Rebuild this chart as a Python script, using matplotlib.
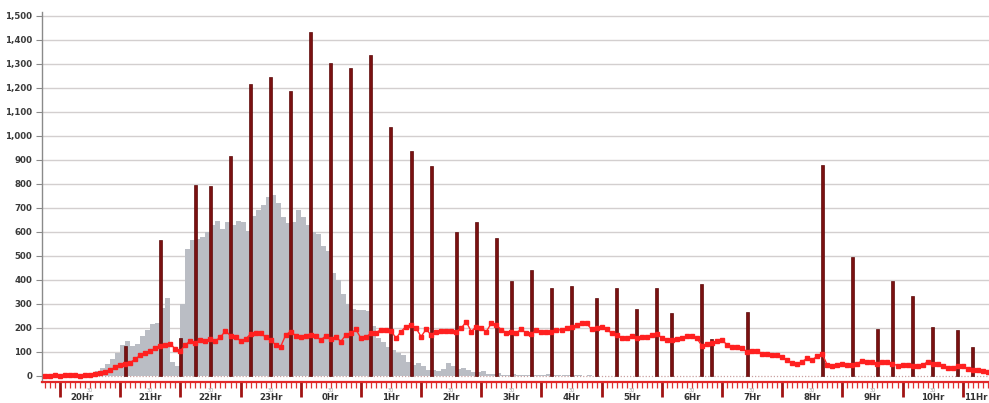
import numpy as np
import matplotlib
matplotlib.use("Agg")
import matplotlib.pyplot as plt
from matplotlib.ticker import MultipleLocator

# ---------------- data (minutes after 20:00) ----------------
hour_labels = ["20Hr", "21Hr", "22Hr", "23Hr", "0Hr", "1Hr", "2Hr", "3Hr",
               "4Hr", "5Hr", "6Hr", "7Hr", "8Hr", "9Hr", "10Hr", "11Hr"]
half_label = "30"

spike_minutes = [65, 100, 120, 135, 150, 170, 190, 210, 230, 250, 270, 290, 310,
                 330, 350, 370, 395, 415, 435, 450, 470, 490, 510, 535, 555, 575,
                 595, 610, 640, 650, 685, 760, 790, 815, 830, 850, 870, 895, 910]
spike_values = [125, 567, 158, 796, 792, 917, 1215, 1246, 1188, 1432, 1304, 1283, 1337,
                1035, 937, 875, 598, 642, 575, 394, 440, 367, 373, 325, 365, 279,
                365, 262, 383, 156, 267, 877, 494, 194, 394, 331, 204, 192, 119]

gray_start = -15
gray_step = 5
gray_values = [0, 0, 0, 0, 0, 2, 3, 5, 8, 12, 20, 35, 50, 70, 95, 130, 145, 125, 135,
               165, 190, 215, 220, 285, 325, 60, 40, 300, 530, 565, 570, 580, 600, 630,
               645, 610, 640, 630, 645, 640, 605, 665, 690, 710, 745, 755, 720, 660,
               635, 640, 690, 660, 630, 600, 590, 540, 520, 430, 400, 340, 300, 280,
               275, 275, 270, 210, 160, 140, 120, 110, 95, 88, 60, 45, 55, 40, 25, 25,
               20, 30, 55, 40, 30, 35, 25, 15, 18, 20, 10, 8, 12, 6, 5, 8, 4, 6, 5, 4,
               3, 5, 8, 4, 3, 5, 3, 4, 3, 2, 3, 2]

line_start = -15
line_step = 5
line_values = [2, 2, 3, 2, 3, 4, 3, 2, 4, 5, 8, 11, 15, 25, 36, 44, 48, 56, 70, 86,
               95, 105, 115, 123, 128, 135, 111, 104, 129, 147, 139, 150, 147, 153, 147,
               161, 189, 167, 161, 147, 153, 175, 178, 181, 161, 150, 129, 122, 171, 185,
               167, 161, 167, 171, 167, 150, 167, 153, 164, 143, 171, 178, 194, 157, 161,
               178, 181, 192, 192, 189, 157, 185, 206, 212, 199, 164, 194, 171, 185, 189,
               189, 189, 185, 199, 226, 185, 206, 199, 185, 219, 212, 192, 181, 185, 181,
               194, 178, 175, 192, 185, 185, 185, 192, 192, 199, 206, 212, 219, 219, 194,
               199, 206, 195, 178, 172, 160, 158, 166, 160, 164, 164, 170, 173, 160, 151,
               150, 154, 159, 165, 166, 157, 125, 135, 137, 145, 150, 130, 122, 119, 117,
               100, 103, 106, 92, 90, 88, 88, 80, 65, 55, 51, 60, 74, 67, 83, 92, 45, 42,
               45, 50, 46, 46, 52, 64, 58, 60, 48, 57, 60, 52, 43, 46, 46, 42, 40, 44, 60,
               50, 48, 40, 33, 32, 40, 42, 28, 27, 25, 22, 18]

# ---------------- figure ----------------
W, H = 989, 403
fig = plt.figure(figsize=(W / 100, H / 100), dpi=100)
left_px, bottom_px, top_px = 42, 382, 12
ax = fig.add_axes([left_px / W, (H - bottom_px) / H, 1 - left_px / W,
                   (bottom_px - top_px) / H])

px_per_min = 1.003
x0 = -18 / px_per_min
x1 = x0 + (W - left_px) / px_per_min
ax.set_xlim(x0, x1)
ax.set_ylim(-25, 1515)

# grid
for v in range(100, 1501, 100):
    ax.axhline(v, color="#d3cfcf", lw=1.0, zorder=0)
ax.axhline(0, color="#c9a0a0", lw=0.9, ls=(0, (1, 1.5)), zorder=0.5)

# gray histogram
gray_x = gray_start + gray_step * np.arange(len(gray_values)) + gray_step / 2
ax.bar(gray_x, gray_values, width=gray_step, color="#babdc4", edgecolor="none",
       zorder=1)

# spikes
ax.bar(spike_minutes, spike_values, width=3.0, color="#7a1111",
       edgecolor="#5c0a0a", linewidth=0.5, zorder=2)

# red line
line_x = line_start + line_step * np.arange(len(line_values))
ax.plot(line_x, line_values, color="#ff2a2a", lw=1.0, marker="s", ms=2.2,
        mec="#ff2020", mfc="#ff2020", zorder=3)

# spines
for s in ["top", "right"]:
    ax.spines[s].set_visible(False)
ax.spines["left"].set_color("#8a8a8a")
ax.spines["left"].set_linewidth(1.0)
ax.spines["bottom"].set_color("#e02828")
ax.spines["bottom"].set_linewidth(1.6)

# y ticks
ax.set_yticks(range(0, 1501, 100))
ax.set_yticklabels([f"{v:,}" for v in range(0, 1501, 100)], fontweight="bold")
ax.tick_params(axis="y", direction="out", length=4, width=0.8, color="#8a8a8a",
               labelsize=6.2, labelcolor="#3a3a3a", pad=3)

# x ticks
hours = 60 * np.arange(len(hour_labels))
ax.set_xticks(hours)
ax.set_xticklabels([""] * len(hours))
ax.set_xticks(np.arange(-15, x1, 5), minor=True)
ax.tick_params(axis="x", which="major", direction="out", length=11, width=2.0,
               color="#a01414")
ax.tick_params(axis="x", which="minor", direction="out", length=4, width=0.9,
               color="#e03030")

for i, (hx, lab) in enumerate(zip(hours, hour_labels)):
    cx = hx + 30
    last = (i == len(hours) - 1)
    if last:
        ax.annotate(lab, xy=(1.0, 0), xycoords="axes fraction",
                    xytext=(-1, -15), textcoords="offset pixels", ha="right",
                    va="center", fontsize=6.2, fontweight="bold", color="#333333",
                    annotation_clip=False)
        continue
    dx = -8 if i == 0 else 0
    ax.annotate(lab, xy=(cx, 0), xycoords=("data", "axes fraction"),
                xytext=(dx, -15), textcoords="offset pixels", ha="center",
                va="center", fontsize=6.2, fontweight="bold", color="#333333",
                annotation_clip=False)
    ax.annotate(half_label, xy=(cx, 0), xycoords=("data", "axes fraction"),
                xytext=(0, -8), textcoords="offset pixels", ha="center",
                va="center", fontsize=3.6, color="#a0a0a0",
                annotation_clip=False)

fig.savefig("out.png", dpi=100)
